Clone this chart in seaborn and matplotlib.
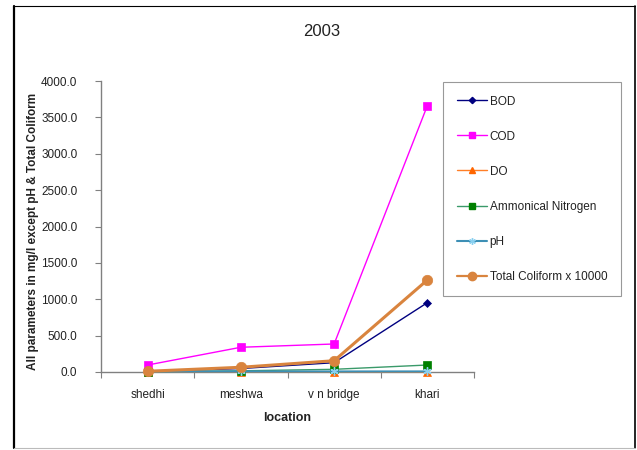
import numpy as np
import pandas as pd
import matplotlib
matplotlib.use("Agg")
import matplotlib.pyplot as plt
from matplotlib.lines import Line2D
import seaborn as sns

# Monitoring locations along the river, upstream to downstream
locations = ["shedhi", "meshwa", "v n bridge", "khari"]

# Water quality parameters (mg/l except pH; Total Coliform scaled down by 10000)
bod = [6.0, 48.0, 128.0, 953.0]
cod = [96.0, 340.0, 385.0, 3662.0]
do = [4.5, 2.0, 1.0, 0.0]
ammonical_nitrogen = [5.0, 16.0, 37.0, 96.0]
ph = [7.6, 7.7, 7.4, 7.8]
total_coliform = [10.0, 65.0, 155.0, 1265.0]

series_names = ["BOD", "COD", "DO", "Ammonical Nitrogen", "pH", "Total Coliform x 10000"]
series_values = [bod, cod, do, ammonical_nitrogen, ph, total_coliform]

styles = {
    "BOD": dict(color="#000080", marker="D", ms=4.0, mfc="#000080", mec="#000080", lw=1.0),
    "COD": dict(color="#FF00FF", marker="s", ms=5.5, mfc="#FF00FF", mec="#FF00FF", lw=1.0),
    "DO": dict(color="#FF7F27", marker="^", ms=5.5, mfc="#FF6600", mec="#FF6600", lw=1.0),
    "Ammonical Nitrogen": dict(color="#3A9A6A", marker="s", ms=5.5, mfc="#008000", mec="#008000", lw=1.0),
    "pH": dict(color="#3D8FB5", marker=(6, 2, 0), ms=6.0, mfc="#8AD0F0", mec="#8AD0F0", lw=1.5),
    "Total Coliform x 10000": dict(color="#D9843E", marker="o", ms=7.5, mfc="#D9843E", mec="#D9843E", lw=2.2),
}

rows = []
for name, vals in zip(series_names, series_values):
    for i, (loc, v) in enumerate(zip(locations, vals)):
        rows.append({"parameter": name, "location": loc, "pos": i, "value": v})
df = pd.DataFrame(rows)

sns.set_theme(style="white")
plt.rcParams["font.family"] = ["Liberation Sans", "DejaVu Sans"]

fig = plt.figure(figsize=(6.37, 4.5), dpi=100)
fig.patch.set_facecolor("white")
ax = fig.add_axes([101 / 637, 1 - 372 / 450, (474 - 101) / 637, (372 - 81) / 450])

handles = []
for name in series_names:
    st = styles[name]
    sub = df[df["parameter"] == name]
    sns.lineplot(data=sub, x="pos", y="value", ax=ax, color=st["color"], lw=st["lw"],
                 marker=st["marker"], markersize=st["ms"], markerfacecolor=st["mfc"],
                 markeredgecolor=st["mec"], markeredgewidth=1.0 if name == "pH" else 0.5,
                 legend=False, clip_on=False, zorder=3)
    handles.append(Line2D([0], [0], color=st["color"], lw=st["lw"] if name != "Total Coliform x 10000" else 1.6,
                          marker=st["marker"], markersize=st["ms"] * 0.8,
                          markerfacecolor=st["mfc"], markeredgecolor=st["mec"], label=name))

ax.set_xlim(-0.5, len(locations) - 0.5)
ax.set_ylim(0, 4000)
ax.set_yticks(np.arange(0, 4001, 500))
ax.set_yticklabels([f"{v:.1f}" for v in np.arange(0, 4001, 500)])
ax.set_xticks(range(len(locations)))
ax.set_xticklabels(locations)
ax.set_xticks(np.arange(-0.5, len(locations), 1.0), minor=True)

ax.tick_params(axis="x", which="major", length=0, pad=12, labelsize=8.5, colors="#222222")
ax.tick_params(axis="x", which="minor", length=4, width=0.8, color="#808080", direction="out", bottom=True)
ax.tick_params(axis="y", which="major", length=4, width=0.8, color="#808080", direction="out",
               left=True, pad=13, labelsize=8.5, labelcolor="#222222")

for side in ["top", "right"]:
    ax.spines[side].set_visible(False)
for side in ["left", "bottom"]:
    ax.spines[side].set_color("#808080")
    ax.spines[side].set_linewidth(1.0)
ax.grid(False)
ax.set_facecolor("white")

ax.set_xlabel("location", fontsize=9, fontweight="bold", color="#222222")
ax.xaxis.set_label_coords(0.5, (372 - 418) / 291)
ax.xaxis.label.set_va("center")
ax.set_ylabel("All parameters in mg/l except pH & Total Coliform", fontsize=8.5,
              fontweight="bold", color="#222222")
ax.yaxis.set_label_coords((33 - 101) / 373, (372 - 231) / 291)
ax.yaxis.label.set_va("center")

fig.text(322 / 637, 1 - 32 / 450, "2003", ha="center", va="center", fontsize=12, color="#222222")

leg = fig.legend(handles=handles, loc="upper left", bbox_to_anchor=(443 / 637, 1 - 82 / 450),
                 frameon=True, fancybox=False, fontsize=8.5, labelspacing=1.95,
                 handlelength=2.6, handletextpad=0.2, borderpad=1.15, borderaxespad=0)
leg.get_frame().set_edgecolor("#808080")
leg.get_frame().set_linewidth(0.8)
for t in leg.get_texts():
    t.set_color("#222222")

# outer chart border
fig.add_artist(Line2D([14 / 637, 14 / 637], [2 / 450, 1 - 6 / 450], transform=fig.transFigure, color="black", lw=1.6))
fig.add_artist(Line2D([14 / 637, 635 / 637], [1 - 6 / 450, 1 - 6 / 450], transform=fig.transFigure, color="black", lw=0.8))
fig.add_artist(Line2D([635 / 637, 635 / 637], [2 / 450, 1 - 6 / 450], transform=fig.transFigure, color="black", lw=1.2))
fig.add_artist(Line2D([14 / 637, 635 / 637], [2 / 450, 2 / 450], transform=fig.transFigure, color="#bbbbbb", lw=0.8))

fig.savefig("out.png", dpi=100, facecolor="white")
